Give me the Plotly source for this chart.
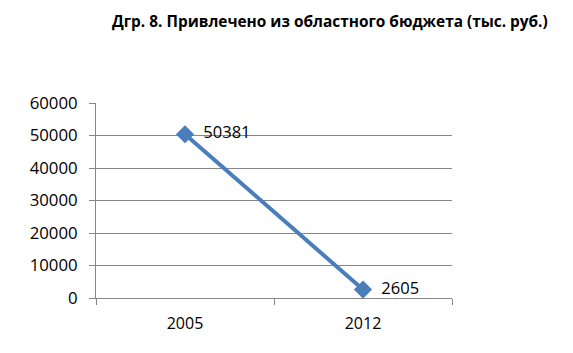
import plotly.graph_objects as go

years = ["2005", "2012"]
values = [50381, 2605]
y_ticks = [0, 10000, 20000, 30000, 40000, 50000, 60000]
title = "Дгр. 8. Привлечено из областного бюджета (тыс. руб.)"

W, H = 573, 353
L, R, T, B = 96, 121, 103, 55

fig = go.Figure()
fig.add_trace(go.Scatter(
    x=list(range(len(years))), y=values,
    mode="lines+markers+text",
    line=dict(color="#4a7ebb", width=4),
    marker=dict(symbol="diamond", size=14, color="#4a7ebb"),
    text=[f"  {v}" for v in values],
    textposition="middle right",
    textfont=dict(family="Open Sans, Liberation Sans, sans-serif", size=16.5, color="#000000"),
    cliponaxis=False,
    showlegend=False,
))

fig.update_layout(
    width=W, height=H,
    margin=dict(l=L, r=R, t=T, b=B, autoexpand=False),
    paper_bgcolor="white", plot_bgcolor="white",
    font=dict(family="Open Sans, Liberation Sans, sans-serif", size=16, color="#000000"),
    annotations=[dict(
        text="<b>" + title + "</b>", xref="paper", yref="paper",
        x=(550 - L) / (W - L - R), y=1 + (103 - 22) / (H - T - B),
        xanchor="right", yanchor="middle", showarrow=False,
        font=dict(family="Open Sans, Liberation Sans, sans-serif", size=15.4, color="#000000"),
    )],
)

fig.update_xaxes(
    range=[-0.5, len(years) - 0.5],
    tickmode="array", tickvals=list(range(len(years))), ticktext=years,
    ticks="", showgrid=False, zeroline=False,
    showline=True, linecolor="#868686", linewidth=1,
    tickfont=dict(size=16),
    minor=dict(tickmode="array", tickvals=[-0.5, 0.5, 1.5], ticks="outside",
               ticklen=6, tickcolor="#868686", showgrid=False),
    ticklabelstandoff=11,
)
fig.update_yaxes(
    range=[0, 60000],
    tickmode="array", tickvals=y_ticks, ticktext=[str(v) for v in y_ticks],
    ticks="outside", ticklen=6, tickcolor="#868686",
    showgrid=True, gridcolor="#868686", gridwidth=1,
    zeroline=False, showline=True, linecolor="#868686", linewidth=1,
    tickfont=dict(size=16.8),
    ticklabelstandoff=8,
)

fig.write_html("out.html")
